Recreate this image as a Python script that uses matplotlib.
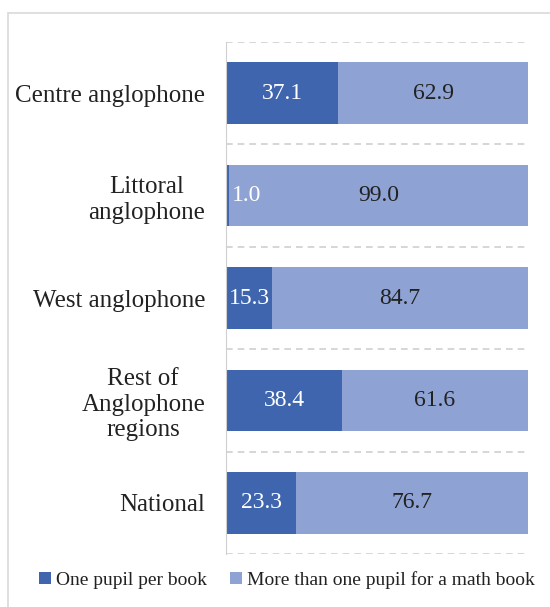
import matplotlib.pyplot as plt
from matplotlib.patches import Rectangle

# Data
categories = ['Centre anglophone', 'Littoral\nanglophone', 'West anglophone',
              'Rest of\nAnglophone\nregions', 'National']
one_pupil = [37.1, 1.0, 15.3, 38.4, 23.3]
more_than_one = [62.9, 99.0, 84.7, 61.6, 76.7]
series_names = ['One pupil per book', 'More than one pupil for a math book']

dark = '#3F65AE'
light = '#8EA3D4'

plt.rcParams['font.family'] = ['Liberation Serif', 'DejaVu Serif']

fig = plt.figure(figsize=(5.5, 6.07), dpi=100)
ax = fig.add_axes([226 / 550, 1 - 554 / 607, (528 - 226) / 550, (554 - 42) / 607])

y = list(range(len(categories)))
ax.barh(y, one_pupil, height=0.6, color=dark, label=series_names[0])
ax.barh(y, more_than_one, left=one_pupil, height=0.6, color=light, label=series_names[1])

for i, (a, b) in enumerate(zip(one_pupil, more_than_one)):
    ax.text(a / 2 if a > 5 else 1.8, i, f'{a:.1f}', ha='center' if a > 5 else 'left',
            va='center', color='white', fontsize=17)
    ax.text(a + b / 2, i, f'{b:.1f}', ha='center', va='center', color='#222222', fontsize=17)

ax.set_xlim(0, 100)
ax.set_ylim(len(categories) - 0.5, -0.5)
ax.set_yticks(y)
ax.set_yticklabels(categories, fontsize=18, color='#222222', ha='right',
                   multialignment='center', linespacing=1.2)
ax.tick_params(axis='y', length=0, pad=15)
ax.set_xticks([])

# dashed boundaries between categories
for b in [k - 0.5 for k in range(len(categories) + 1)]:
    ax.axhline(b, color='#d0d0d0', linestyle=(0, (4, 3)), linewidth=1.2, zorder=0)

for s in ['top', 'right', 'bottom']:
    ax.spines[s].set_visible(False)
ax.spines['left'].set_color('#d0d0d0')

# outer frame
fig.patches.append(Rectangle((8 / 550, -0.01), 1.0, 1 - 13 / 607 + 0.01, transform=fig.transFigure,
                             fill=False, edgecolor='#d9d9d9', linewidth=1.2))

fig.legend(loc='center', bbox_to_anchor=(287 / 550, 1 - 580 / 607), ncol=2, frameon=False,
           fontsize=14, handlelength=0.6, handleheight=0.6, handletextpad=0.25,
           columnspacing=1.2, labelcolor='#222222')

fig.savefig('out.png', dpi=100)
